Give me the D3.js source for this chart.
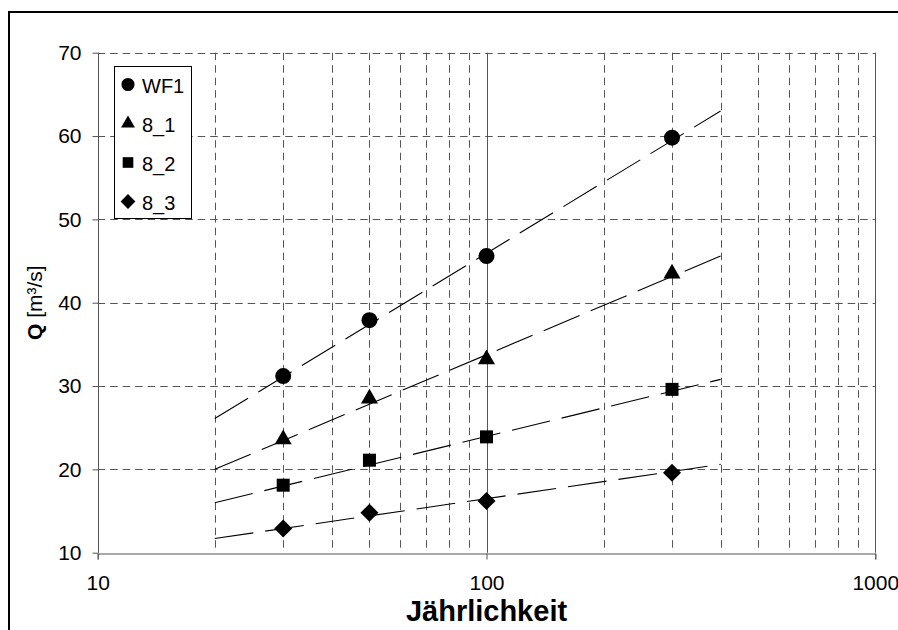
<!DOCTYPE html>
<html>
<head>
<meta charset="utf-8">
<script src="https://cdn.jsdelivr.net/npm/d3@7/dist/d3.min.js"></script>
<style>
  body { margin: 0; background: #fff; }
  text { font-family: Arial, "Liberation Sans", sans-serif; }
</style>
</head>
<body>
<div id="chart"></div>
<script>
// data
var years = [30, 50, 100, 300];
var seriesNames = ["WF1", "8_1", "8_2", "8_3"];
var wf1 = [31.2, 37.9, 45.6, 59.8];
var s81 = [23.6, 28.5, 33.2, 43.5];
var s82 = [18.1, 21.1, 23.9, 29.6];
var s83 = [12.9, 14.8, 16.2, 19.6];
// trend lines (log fit) endpoints
var trendX = [20, 400];
var trendWF1 = [26.1, 63.0];
var trend81 = [20.0, 45.6];
var trend82 = [16.0, 30.8];
var trend83 = [11.7, 20.6];
var yTicks = [10, 20, 30, 40, 50, 60, 70];
var xTicks = [10, 100, 1000];

var series = [
  {name: seriesNames[0], values: wf1, trend: trendWF1, shape: "circle"},
  {name: seriesNames[1], values: s81, trend: trend81, shape: "triangle"},
  {name: seriesNames[2], values: s82, trend: trend82, shape: "square"},
  {name: seriesNames[3], values: s83, trend: trend83, shape: "diamond"}
];

var W = 898, H = 630;
var margin = {top: 52.7, left: 97.7, right: 875.3, bottom: 552.7};

var svg = d3.select("#chart").append("svg")
    .attr("width", W).attr("height", H);

// outer chart border
svg.append("rect")
    .attr("x", 9).attr("y", 12)
    .attr("width", W + 10).attr("height", H + 10)
    .attr("fill", "none").attr("stroke", "#000").attr("stroke-width", 2);

var x = d3.scaleLog().domain([10, 1000]).range([margin.left, margin.right]);
var y = d3.scaleLinear().domain([10, 70]).range([margin.bottom, margin.top]);

var gridColor = "#555";

// vertical grid lines
var minor = x.ticks().filter(function(d) { return xTicks.indexOf(d) < 0; });
svg.append("g").selectAll("line").data(minor).enter().append("line")
    .attr("x1", function(d) { return Math.round(x(d)) + 0.5; })
    .attr("x2", function(d) { return Math.round(x(d)) + 0.5; })
    .attr("y1", y(70)).attr("y2", y(10))
    .attr("stroke", gridColor).attr("stroke-dasharray", "7.5,5");

// 100 line solid
svg.append("line")
    .attr("x1", Math.round(x(100)) + 0.5).attr("x2", Math.round(x(100)) + 0.5)
    .attr("y1", y(70)).attr("y2", y(10))
    .attr("stroke", gridColor);

// horizontal grid lines
svg.append("g").selectAll("line").data(yTicks.slice(1)).enter().append("line")
    .attr("x1", x(10)).attr("x2", x(1000))
    .attr("y1", function(d) { return Math.round(y(d)) + 0.5; })
    .attr("y2", function(d) { return Math.round(y(d)) + 0.5; })
    .attr("stroke", gridColor).attr("stroke-dasharray", "7.5,5");

// right border of plot
svg.append("line")
    .attr("x1", Math.round(x(1000)) + 0.5).attr("x2", Math.round(x(1000)) + 0.5)
    .attr("y1", y(70)).attr("y2", y(10))
    .attr("stroke", gridColor);

// axes
var yAxis = svg.append("g")
    .attr("transform", "translate(" + (Math.round(x(10)) + 0.5) + ",0)")
    .call(d3.axisLeft(y).tickValues(yTicks).tickSize(6).tickPadding(11));
var xAxis = svg.append("g")
    .attr("transform", "translate(0," + (Math.round(y(10)) + 0.5) + ")")
    .call(d3.axisBottom(x).tickValues(xTicks).tickFormat(d3.format("d")).tickSize(6).tickPadding(16));
[yAxis, xAxis].forEach(function(a) {
  a.select(".domain").attr("stroke", gridColor);
  a.selectAll(".tick line").attr("stroke", gridColor);
  a.selectAll("text").attr("font-size", 21).attr("fill", "#000")
    .attr("font-family", "Arial, 'Liberation Sans', sans-serif");
});
yAxis.select(".domain").attr("d", "M0," + y(10) + "V" + y(70));

// trend lines
var line = d3.line()
    .x(function(d) { return x(d[0]); })
    .y(function(d) { return y(d[1]); });
series.forEach(function(s) {
  svg.append("path")
      .datum(trendX.map(function(t, i) { return [t, s.trend[i]]; }))
      .attr("d", line)
      .attr("fill", "none").attr("stroke", "#000").attr("stroke-width", 1.1)
      .attr("stroke-dasharray", "39,12");
});

function markerPath(shape, big) {
  var k = big ? 1 : 0.82;
  if (shape === "circle") return d3.symbol(d3.symbolCircle, 201 * k * k)();
  if (shape === "triangle") return d3.symbol(d3.symbolTriangle, 125 * k * k)();
  if (shape === "square") return d3.symbol(d3.symbolSquare, 169 * k * k)();
  return d3.symbol(d3.symbolSquare, 162 * k * k)();
}

// markers
series.forEach(function(s) {
  svg.append("g").selectAll("path").data(s.values).enter().append("path")
      .attr("d", markerPath(s.shape, true))
      .attr("transform", function(d, i) {
        return "translate(" + x(years[i]) + "," + y(d) + ")" + (s.shape === "diamond" ? " rotate(45)" : "");
      })
      .attr("fill", "#000");
});

// legend
var legend = svg.append("g");
legend.append("rect")
    .attr("x", 114.5).attr("y", 66.5).attr("width", 77).attr("height", 152)
    .attr("fill", "#fff").attr("stroke", "#000");
series.forEach(function(s, i) {
  var cy = 84.5 + i * 39;
  legend.append("path")
      .attr("d", markerPath(s.shape, false))
      .attr("transform", "translate(128," + cy + ")" + (s.shape === "diamond" ? " rotate(45)" : ""))
      .attr("fill", "#000");
  legend.append("text")
      .attr("x", 142).attr("y", cy + 8)
      .attr("font-size", 20)
      .text(s.name);
});

// axis titles
svg.append("text")
    .attr("x", (margin.left + margin.right) / 2).attr("y", 621)
    .attr("text-anchor", "middle")
    .attr("font-size", 29).attr("font-weight", "bold")
    .text("Jährlichkeit");

var yt = svg.append("text")
    .attr("transform", "translate(42," + ((margin.top + margin.bottom) / 2) + ") rotate(-90)")
    .attr("text-anchor", "middle")
    .attr("font-size", 21);
yt.append("tspan").attr("font-weight", "bold").text("Q");
yt.append("tspan").text(" [m³/s]");
</script>
</body>
</html>
